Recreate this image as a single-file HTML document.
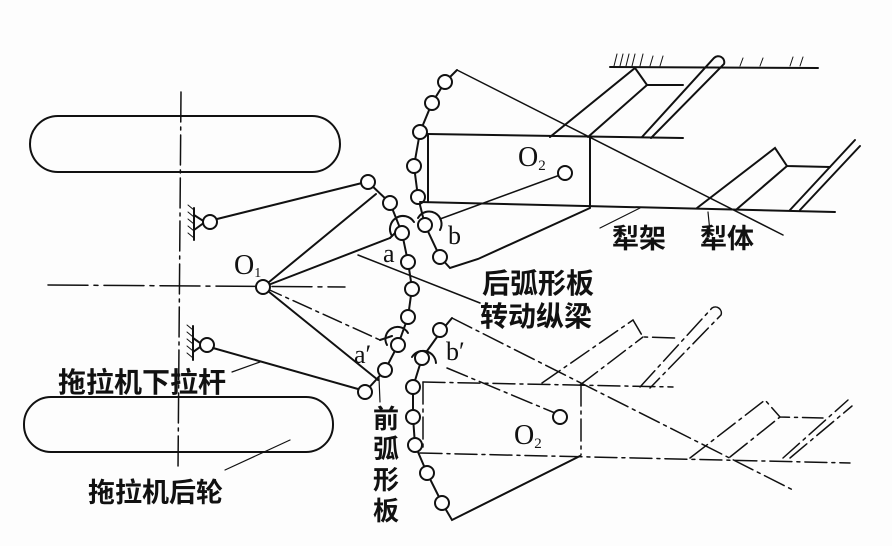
<!DOCTYPE html>
<html><head><meta charset="utf-8"><style>
html,body{margin:0;padding:0;background:#fff;}
svg{display:block;}
text{font-family:"Liberation Serif","Noto Serif CJK SC","Noto Sans CJK SC",serif;fill:#111;}
.cj{font-family:"Liberation Sans","Noto Sans CJK SC",sans-serif;font-weight:bold;}
</style></head><body>
<svg width="892" height="546" viewBox="0 0 892 546" xmlns="http://www.w3.org/2000/svg">
<rect width="892" height="546" fill="#fdfdfd"/>
<g stroke="#111" stroke-width="2" fill="none" stroke-linecap="round">
<rect x="30" y="116" width="310" height="56" rx="28"/>
<rect x="24" y="397" width="309" height="55" rx="27"/>
<line x1="181" y1="92" x2="178" y2="470" stroke-width="1.5" stroke-dasharray="30,5,3,5"/>
<line x1="48" y1="285" x2="345" y2="287" stroke-width="1.5" stroke-dasharray="40,6,4,6"/>
<line x1="194" y1="208" x2="194" y2="240"/>
<g stroke-width="1"><line x1="194" y1="210" x2="188" y2="205"/><line x1="194" y1="217" x2="188" y2="212"/><line x1="194" y1="224" x2="188" y2="219"/><line x1="194" y1="231" x2="188" y2="226"/><line x1="194" y1="238" x2="188" y2="233"/></g>
<path d="M194 215 L205 222 L194 230"/>
<circle cx="210" cy="222" r="7" fill="#fff"/>
<line x1="217" y1="219" x2="362" y2="183"/>
<line x1="193" y1="326" x2="193" y2="360"/>
<g stroke-width="1"><line x1="193" y1="330" x2="187" y2="325"/><line x1="193" y1="337" x2="187" y2="332"/><line x1="193" y1="344" x2="187" y2="339"/><line x1="193" y1="351" x2="187" y2="346"/><line x1="193" y1="358" x2="187" y2="353"/></g>
<path d="M193 338 L203 345 L193 352"/>
<circle cx="207" cy="345" r="7" fill="#fff"/>
<line x1="213" y1="348" x2="358" y2="389"/>
<line x1="263" y1="287" x2="376" y2="194"/>
<line x1="263" y1="287" x2="390" y2="238"/>
<line x1="263" y1="287" x2="380" y2="340" stroke-width="1.5" stroke-dasharray="20,5,3,5"/>
<line x1="263" y1="287" x2="378" y2="380"/>
<line x1="358" y1="255" x2="480" y2="303" stroke-width="1.5"/>
<line x1="390" y1="238" x2="396" y2="232"/>
<line x1="380" y1="340" x2="392" y2="336"/>
<circle cx="263" cy="287" r="7" fill="#fff"/>
<polyline points="368,182 390,203 402,233 408,262 412,288 408,317 398,345 385,370 365,392"/>
<path d="M392 236 A13 13 0 0 1 414 222"/>
<path d="M418 218 A12 12 0 0 1 440 230"/>
<path d="M387 345 A12 12 0 0 1 408 333"/>
<path d="M412 357 A13 13 0 0 1 436 363"/>
<g fill="#fff">
<circle cx="368" cy="182" r="7"/><circle cx="390" cy="203" r="7"/><circle cx="402" cy="233" r="7"/><circle cx="408" cy="262" r="7"/><circle cx="412" cy="289" r="7"/><circle cx="408" cy="317" r="7"/><circle cx="398" cy="345" r="7"/><circle cx="385" cy="370" r="7"/><circle cx="365" cy="392" r="7"/>
</g>
<polyline points="457,70 445,82 432,103 420,132 414,166 418,197 425,225 440,257 450,268 478,259 590,208"/>
<line x1="457" y1="70" x2="783" y2="235" stroke-width="1.5"/>
<g fill="#fff">
<circle cx="445" cy="82" r="7"/><circle cx="432" cy="103" r="7"/><circle cx="420" cy="132" r="7"/><circle cx="414" cy="166" r="7"/><circle cx="418" cy="197" r="7"/><circle cx="425" cy="225" r="7"/><circle cx="440" cy="257" r="7"/>
</g>
<line x1="428" y1="134" x2="683" y2="138"/>
<line x1="428" y1="134" x2="428" y2="202"/>
<line x1="590" y1="136" x2="590" y2="207"/>
<line x1="420" y1="202" x2="835" y2="212"/>
<line x1="440" y1="219" x2="560" y2="175" stroke-width="1.5"/>
<circle cx="565" cy="173" r="7" fill="#fff"/>
<line x1="610" y1="67" x2="818" y2="68"/>
<g stroke-width="1"><path d="M614 66l3-12M620 66l3-12M626 66l3-12M632 66l3-12M640 66l3-12M650 66l3-10M660 66l3-10M740 66l3-8M760 66l3-8M790 66l3-9M800 66l3-9"/></g>
<polyline points="550,137 635,68 647,85 683,85"/>
<line x1="588" y1="137" x2="647" y2="85"/>
<path d="M642 137 L714 58 A6 6 0 0 1 724 64 L651 138"/>
<polyline points="697,208 775,148 787,166 830,167"/>
<line x1="737" y1="209" x2="787" y2="166"/>
<path d="M790 210 L855 140 M800 210 L860 146"/>
<polyline points="452,318 442,330 422,358 413,387 413,417 415,445 427,473 442,503 452,520 580,456"/>
<g fill="#fff">
<circle cx="440" cy="330" r="7"/><circle cx="422" cy="358" r="7"/><circle cx="413" cy="387" r="7"/><circle cx="413" cy="417" r="7"/><circle cx="415" cy="445" r="7"/><circle cx="427" cy="473" r="7"/><circle cx="442" cy="503" r="7"/>
</g>
<g stroke-width="1.5" stroke-dasharray="22,5,3,5">
<line x1="452" y1="318" x2="793" y2="490"/>
<line x1="423" y1="382" x2="673" y2="387"/>
<line x1="423" y1="382" x2="423" y2="452"/>
<line x1="581" y1="384" x2="581" y2="455"/>
<line x1="420" y1="453" x2="850" y2="463"/>
<line x1="580" y1="456" x2="452" y2="520"/>
<line x1="447" y1="368" x2="555" y2="413"/>
<polyline points="542,383 633,320 643,337 675,338"/>
<line x1="580" y1="385" x2="643" y2="337"/>
<path d="M640 387 L712 308 A6 6 0 0 1 721 315 L650 388"/>
<polyline points="690,458 765,400 780,417 823,418"/>
<line x1="730" y1="457" x2="780" y2="417"/>
<path d="M783 458 L848 400 M790 458 L852 406"/>
</g>
<circle cx="560" cy="417" r="7" fill="#fff"/>
<g stroke-width="1.2">
<line x1="600" y1="228" x2="640" y2="208"/>
<line x1="710" y1="232" x2="708" y2="212"/>
<line x1="232" y1="372" x2="260" y2="362"/>
<line x1="225" y1="470" x2="290" y2="440"/>
<line x1="380" y1="402" x2="379" y2="378"/>
</g>
</g>
<text x="234" y="274" font-size="28">O<tspan font-size="14" dy="3">1</tspan></text>
<text x="518" y="166" font-size="28">O<tspan font-size="15" dy="4">2</tspan></text>
<text x="514" y="444" font-size="28">O<tspan font-size="15" dy="4">2</tspan></text>
<text x="383" y="262" font-size="26">a</text>
<text x="448" y="244" font-size="26">b</text>
<text x="354" y="363" font-size="26">a′</text>
<text x="446" y="360" font-size="26">b′</text>
<text class="cj" x="612" y="248" font-size="27">犁架</text>
<text class="cj" x="700" y="248" font-size="27">犁体</text>
<text class="cj" x="482" y="293" font-size="28">后弧形板</text>
<text class="cj" x="480" y="326" font-size="28">转动纵梁</text>
<text class="cj" x="58" y="392" font-size="28">拖拉机下拉杆</text>
<text class="cj" x="88" y="502" font-size="27">拖拉机后轮</text>
<text class="cj" x="373" y="428" font-size="26">前</text>
<text class="cj" x="373" y="458" font-size="26">弧</text>
<text class="cj" x="373" y="489" font-size="26">形</text>
<text class="cj" x="373" y="520" font-size="26">板</text>
</svg>
</body></html>
